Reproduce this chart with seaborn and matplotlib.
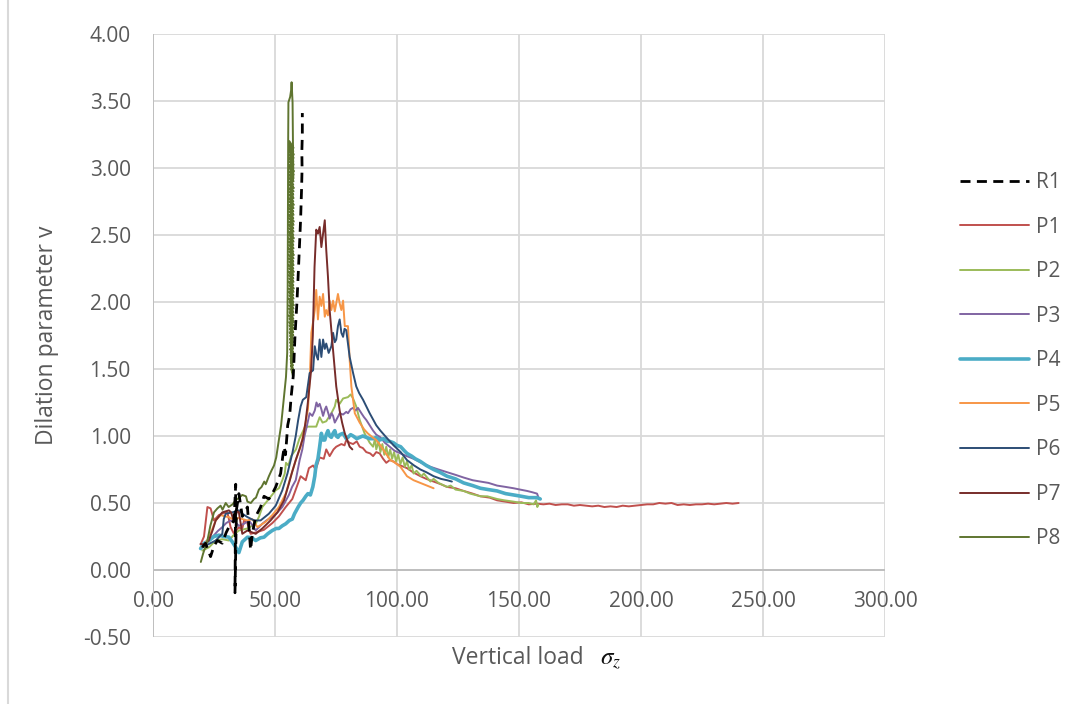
import numpy as np
import pandas as pd
import matplotlib
matplotlib.use("Agg")
import matplotlib.pyplot as plt
from matplotlib.lines import Line2D
from matplotlib.ticker import FormatStrFormatter
import seaborn as sns

# ---------------- data: vertical load vs dilation parameter ----------------
r1_x = [20.2, 21.5, 23.6, 25.0, 26.4, 28.4, 30.0, 31.1, 33.2, 33.9, 33.6, 34.2, 35.2, 36.6,
        38.7, 40.0, 40.7, 42.1, 44.1, 45.5, 47.5, 48.9, 50.3, 52.3, 53.2, 53.8, 54.3, 54.8,
        55.2, 56.0, 56.6, 57.5, 58.2, 59.0, 59.6, 60.1, 60.5, 60.9, 61.1, 61.0, 61.2, 61.2]
r1_y = [0.17, 0.20, 0.10, 0.18, 0.22, 0.20, 0.28, 0.32, 0.37, 0.64, -0.17, 0.45, 0.57, 0.40,
        0.47, 0.15, 0.27, 0.40, 0.47, 0.55, 0.53, 0.57, 0.62, 0.72, 0.85, 0.92, 0.86, 0.98,
        1.08, 1.15, 1.29, 1.45, 1.75, 2.00, 2.24, 2.45, 2.62, 2.85, 3.00, 3.12, 3.25, 3.41]

p1_x = [19.5, 20.9, 22.3, 23.6, 25.0, 27.0, 29.8, 30.5, 31.8, 33.2, 35.2, 36.5, 37.3, 38.5,
        40.0, 42.1, 45.5, 48.9, 51.6, 54.4, 57.1, 58.5, 60.5, 62.6, 63.9, 65.6, 66.7, 68.3,
        70.0, 71.0, 72.4, 74.0, 75.1, 77.2, 78.5, 79.2, 80.5, 82.0, 83.5, 84.7, 86.0, 87.4,
        89.0, 90.2, 91.5, 92.9, 94.3, 95.6, 97.0, 98.6, 100.0, 101.4, 104.1, 106.5, 109.6,
        112.0, 115.0, 118.0, 120.5, 124.0, 127.3, 131.0, 134.2, 138.0, 141.0, 144.5, 147.8,
        151.0, 154.0, 157.4, 160.0, 162.5, 165.0, 167.5, 170.0, 172.5, 175.0, 177.5, 180.0,
        182.5, 185.0, 187.5, 190.0, 192.5, 195.0, 197.5, 200.0, 202.5, 205.0, 207.5, 210.0,
        212.5, 215.0, 217.5, 220.0, 222.5, 225.0, 227.5, 230.0, 232.5, 235.0, 237.5, 240.0]
p1_y = [0.19, 0.25, 0.47, 0.46, 0.37, 0.41, 0.43, 0.43, 0.32, 0.27, 0.32, 0.30, 0.37, 0.36,
        0.27, 0.28, 0.30, 0.35, 0.40, 0.47, 0.53, 0.60, 0.70, 0.67, 0.76, 0.78, 0.75, 0.84,
        0.83, 0.90, 0.85, 0.90, 0.92, 0.94, 0.93, 0.97, 0.95, 0.94, 0.96, 0.92, 0.91, 0.88,
        0.87, 0.85, 0.88, 0.87, 0.83, 0.80, 0.82, 0.81, 0.79, 0.78, 0.76, 0.73, 0.70,
        0.68, 0.66, 0.64, 0.62, 0.61, 0.59, 0.57, 0.55, 0.54, 0.52, 0.51, 0.50,
        0.505, 0.49, 0.495, 0.49, 0.495, 0.485, 0.49, 0.49, 0.48, 0.485, 0.48, 0.475,
        0.48, 0.47, 0.475, 0.47, 0.48, 0.475, 0.48, 0.485, 0.49, 0.49, 0.50, 0.495,
        0.50, 0.485, 0.49, 0.485, 0.49, 0.49, 0.495, 0.49, 0.495, 0.50, 0.495, 0.50]

p2_x = [20.2, 23.0, 25.7, 28.4, 31.1, 33.0, 35.2, 38.7, 42.1, 43.5, 44.8, 47.5, 50.3, 51.6,
        53.0, 54.0, 54.5, 55.5, 56.6, 58.6, 60.0, 62.1, 63.4, 64.9, 66.9, 68.3, 69.5, 71.0,
        73.1, 74.5, 75.1, 76.5, 77.9, 79.9, 81.0, 82.0, 83.3, 84.7, 86.7, 88.8, 90.2, 91.0,
        91.5, 92.5, 93.2, 94.0, 94.8, 95.6, 96.4, 97.2, 98.0, 98.8, 99.6, 100.5, 101.4, 102.3,
        103.2, 104.1, 105.0, 106.0, 106.8, 108.0, 110.0, 111.0, 113.7, 115.0, 117.0, 120.5,
        122.0, 124.0, 127.3, 130.0, 134.2, 137.0, 141.0, 144.0, 147.8, 151.0, 154.0, 156.0,
        157.0, 157.5, 158.0]
p2_y = [0.145, 0.17, 0.22, 0.23, 0.22, 0.26, 0.295, 0.31, 0.345, 0.40, 0.47, 0.53, 0.595, 0.61,
        0.67, 0.72, 0.80, 0.78, 0.85, 0.90, 0.98, 1.06, 1.07, 1.07, 1.07, 1.14, 1.10, 1.11,
        1.17, 1.22, 1.27, 1.24, 1.28, 1.29, 1.31, 1.28, 1.22, 1.12, 1.02, 0.95, 0.92, 0.98,
        0.90, 0.96, 0.88, 0.94, 0.86, 0.92, 0.84, 0.90, 0.83, 0.88, 0.81, 0.86, 0.79, 0.84,
        0.77, 0.81, 0.75, 0.78, 0.72, 0.74, 0.70, 0.72, 0.66, 0.68, 0.65, 0.62,
        0.63, 0.60, 0.59, 0.57, 0.55, 0.55, 0.53, 0.52, 0.51, 0.50, 0.50, 0.49,
        0.52, 0.47, 0.49]

p3_x = [20.2, 22.0, 24.3, 26.5, 28.4, 30.0, 31.8, 33.5, 35.2, 37.3, 39.3, 40.5, 42.1, 44.8,
        46.5, 48.9, 51.0, 53.0, 55.7, 57.0, 58.5, 60.1, 61.2, 62.1, 63.0, 64.2, 65.3, 66.3,
        67.0, 67.6, 68.3, 69.0, 69.7, 70.5, 71.0, 72.0, 72.4, 73.2, 73.8, 74.5, 75.1, 76.0,
        76.5, 77.9, 79.2, 79.9, 81.0, 82.0, 83.0, 84.0, 85.4, 86.5, 87.4, 88.8, 90.2, 91.5,
        93.2, 95.0, 97.0, 99.0, 101.4, 104.0, 106.8, 110.0, 113.7, 117.0, 120.5, 124.0,
        127.3, 131.0, 134.2, 137.5, 141.0, 144.5, 147.8, 150.5, 153.3, 155.5, 157.4, 158.0]
p3_y = [0.17, 0.21, 0.245, 0.29, 0.32, 0.35, 0.37, 0.36, 0.33, 0.345, 0.37, 0.34, 0.295, 0.345,
        0.37, 0.395, 0.43, 0.47, 0.56, 0.62, 0.67, 0.82, 0.90, 1.00, 1.07, 1.17, 1.15, 1.19,
        1.25, 1.22, 1.24, 1.20, 1.15, 1.20, 1.22, 1.16, 1.13, 1.17, 1.15, 1.10, 1.12, 1.15,
        1.17, 1.16, 1.18, 1.17, 1.20, 1.21, 1.19, 1.21, 1.17, 1.14, 1.12, 1.08, 1.04, 1.01,
        0.99, 0.95, 0.92, 0.89, 0.87, 0.85, 0.83, 0.80, 0.77, 0.75, 0.73, 0.71,
        0.69, 0.67, 0.66, 0.65, 0.63, 0.62, 0.61, 0.60, 0.59, 0.58, 0.57, 0.54]

p4_x = [19.5, 21.0, 23.0, 25.0, 27.0, 29.0, 31.1, 32.5, 33.9, 35.2, 36.6, 38.7, 40.5, 42.1,
        44.0, 45.5, 47.0, 48.9, 50.5, 51.6, 53.0, 54.4, 55.9, 57.1, 58.0, 59.5, 60.5, 61.5,
        62.6, 63.5, 64.5, 65.5, 66.3, 66.8, 67.6, 68.3, 69.0, 69.7, 70.4, 71.0, 71.7, 72.4,
        73.1, 73.8, 74.5, 75.1, 75.8, 76.5, 77.9, 79.2, 79.9, 81.0, 82.0, 83.5, 84.7, 86.0,
        87.4, 88.8, 90.2, 91.5, 92.9, 94.5, 96.0, 97.0, 98.5, 100.0, 101.5, 103.0, 104.1,
        106.0, 107.5, 109.6, 112.0, 115.0, 117.5, 120.5, 124.0, 127.3, 131.0, 134.2, 137.5,
        141.0, 144.5, 147.8, 151.0, 154.0, 157.4, 158.7]
p4_y = [0.16, 0.20, 0.22, 0.25, 0.26, 0.25, 0.245, 0.21, 0.17, 0.13, 0.21, 0.245, 0.24, 0.22,
        0.24, 0.245, 0.27, 0.295, 0.31, 0.31, 0.33, 0.345, 0.37, 0.38, 0.42, 0.47, 0.50, 0.52,
        0.55, 0.57, 0.56, 0.62, 0.70, 0.78, 0.83, 0.92, 1.02, 0.97, 0.97, 1.01, 1.04, 1.00,
        0.99, 1.02, 1.04, 1.00, 0.99, 1.01, 1.02, 0.98, 0.99, 1.01, 1.00, 0.98, 0.99, 1.00,
        0.99, 0.98, 0.98, 0.99, 0.97, 0.98, 0.96, 0.96, 0.95, 0.93, 0.92, 0.89, 0.87,
        0.85, 0.83, 0.81, 0.78, 0.75, 0.73, 0.70, 0.68, 0.65, 0.63, 0.61, 0.60,
        0.59, 0.57, 0.56, 0.55, 0.54, 0.54, 0.53]

p5_x = [20.2, 21.5, 23.0, 25.7, 27.7, 29.5, 31.1, 32.5, 33.9, 35.0, 36.6, 38.7, 40.7, 42.8,
        44.5, 46.2, 48.9, 51.6, 54.4, 56.4, 58.5, 60.5, 62.0, 63.5, 64.3, 64.9, 65.6, 66.3,
        66.9, 67.6, 68.3, 69.0, 69.7, 70.4, 71.0, 71.7, 72.4, 73.1, 73.8, 74.5, 75.1, 75.8,
        76.5, 77.2, 77.9, 78.6, 79.9, 80.6, 81.3, 82.7, 84.7, 86.5, 88.0, 90.0, 91.5, 93.2,
        95.0, 97.3, 99.3, 101.4, 104.1, 106.8, 110.9, 115.0]
p5_y = [0.17, 0.20, 0.245, 0.37, 0.41, 0.40, 0.395, 0.38, 0.37, 0.39, 0.38, 0.37, 0.38, 0.32,
        0.34, 0.36, 0.41, 0.47, 0.57, 0.695, 0.82, 0.92, 1.05, 1.20, 1.45, 1.77, 1.85, 1.94,
        2.09, 1.87, 2.04, 1.97, 2.06, 1.89, 1.94, 1.90, 2.01, 1.94, 2.01, 1.93, 1.99, 2.06,
        1.99, 1.94, 2.01, 1.82, 1.82, 1.57, 1.37, 1.17, 1.10, 1.05, 1.02, 0.99, 0.97, 0.93,
        0.88, 0.82, 0.80, 0.77, 0.70, 0.67, 0.64, 0.61]

p6_x = [20.2, 23.0, 25.7, 28.4, 29.0, 29.8, 32.5, 35.2, 36.6, 38.7, 41.4, 44.1, 47.5, 50.3,
        53.0, 55.1, 57.1, 58.5, 59.5, 60.5, 61.4, 62.8, 64.2, 65.6, 66.3, 67.0, 67.6, 68.3,
        69.0, 69.7, 70.4, 71.0, 72.0, 73.1, 73.8, 74.5, 75.1, 75.8, 76.5, 77.2, 77.9, 78.5,
        79.2, 80.6, 82.0, 83.3, 84.5, 86.1, 88.8, 91.5, 93.2, 95.6, 98.6, 101.5, 104.1,
        107.0, 109.6, 112.0, 115.0, 118.0, 120.5, 122.5]
p6_y = [0.17, 0.195, 0.22, 0.27, 0.38, 0.42, 0.43, 0.445, 0.42, 0.395, 0.37, 0.37, 0.42, 0.48,
        0.595, 0.72, 0.87, 1.00, 1.12, 1.22, 1.27, 1.29, 1.47, 1.49, 1.67, 1.60, 1.57, 1.72,
        1.59, 1.72, 1.65, 1.69, 1.62, 1.67, 1.77, 1.70, 1.72, 1.82, 1.87, 1.77, 1.74, 1.80,
        1.79, 1.59, 1.47, 1.37, 1.32, 1.27, 1.17, 1.08, 1.04, 0.99, 0.93, 0.88, 0.82,
        0.78, 0.75, 0.73, 0.70, 0.68, 0.67, 0.66]

p7_x = [19.5, 21.0, 22.9, 24.5, 25.7, 28.4, 31.1, 32.0, 33.2, 34.5, 35.2, 36.6, 38.7, 42.1,
        44.8, 48.2, 51.0, 53.7, 55.7, 57.0, 58.5, 60.0, 61.4, 62.5, 63.4, 64.8, 65.5, 66.2,
        66.9, 67.6, 68.3, 69.0, 69.7, 70.4, 71.0, 71.7, 72.4, 73.8, 75.1, 76.5, 77.5, 78.6,
        80.0, 80.6, 81.7]
p7_y = [0.195, 0.19, 0.22, 0.30, 0.37, 0.43, 0.445, 0.43, 0.36, 0.44, 0.43, 0.27, 0.295, 0.27,
        0.31, 0.37, 0.43, 0.52, 0.645, 0.73, 0.82, 0.90, 0.98, 1.10, 1.24, 1.49, 1.75, 2.26,
        2.54, 2.51, 2.56, 2.41, 2.51, 2.61, 2.39, 2.19, 1.94, 1.64, 1.37, 1.19, 1.10, 1.02,
        0.95, 0.92, 0.90]

# P8: rise, narrow spike to the peak, then the dense oscillating band back down
p8_x = [19.6, 20.5, 22.3, 23.5, 25.0, 26.4, 27.7, 28.5, 29.8, 31.0, 32.6, 33.9, 35.3, 36.6,
        38.1, 38.7, 40.1, 41.4, 42.2, 43.4, 44.5, 45.6, 46.2, 47.5, 48.5, 49.6, 50.5, 51.6,
        52.5, 53.4, 54.0, 54.5, 55.0, 55.2, 55.3, 55.4, 55.5, 56.2, 56.6, 56.8, 57.0, 57.2,
        57.3, 57.4, 57.5,
        55.9, 57.6, 56.0, 57.5, 55.8, 57.7, 56.0, 57.6, 55.9, 57.5,
        55.9, 57.6, 56.0, 57.5, 55.8, 57.7, 56.0, 57.6, 55.9, 57.5,
        55.9, 57.6, 56.0, 57.5, 55.8, 57.7, 56.0, 57.6, 55.9, 57.5,
        55.9, 57.6, 56.0, 57.5, 55.8, 57.7, 56.0, 57.6, 55.9, 57.5,
        55.9, 57.6, 56.0, 57.5, 55.8, 57.7, 56.0, 57.6, 55.9, 57.5,
        55.9, 57.6, 56.0, 57.5, 55.8, 57.7, 56.0, 57.6, 55.9, 57.5,
        55.9, 57.6, 56.0, 57.5, 55.8, 57.7, 56.0, 57.6, 55.9, 57.5,
        55.9, 57.6, 56.0, 57.5, 55.8, 57.7, 56.0, 57.6, 55.9, 57.5,
        55.9, 57.6, 56.0, 57.5, 55.8, 57.7, 56.0, 57.6, 55.9, 57.5,
        55.9, 57.6, 56.0, 57.5, 55.8, 57.7, 56.0, 57.6, 55.9, 57.5,
        55.9, 57.6, 56.0, 57.5, 55.8, 57.7, 56.0, 57.6, 55.9, 57.5,
        56.0, 57.5, 56.1, 57.5, 56.0, 57.4, 56.2, 57.5, 56.1, 57.4,
        56.2, 57.4, 56.3, 57.4, 56.2, 57.3, 56.4, 57.4, 56.3, 57.3,
        56.4, 57.3, 56.5, 57.3, 56.6, 57.3, 56.7, 57.3]
p8_y = [0.06, 0.12, 0.22, 0.33, 0.43, 0.46, 0.48, 0.45, 0.50, 0.47, 0.49, 0.52, 0.54, 0.56,
        0.55, 0.51, 0.50, 0.53, 0.54, 0.60, 0.62, 0.66, 0.64, 0.70, 0.74, 0.78, 0.84, 0.97,
        1.08, 1.24, 1.35, 1.44, 1.62, 2.10, 2.70, 3.20, 3.49, 3.53, 3.58, 3.64, 3.56, 3.49,
        3.30, 3.10, 2.92,
        3.200, 3.150, 3.175, 3.125, 3.150, 3.100, 3.125, 3.075, 3.100, 3.050,
        3.075, 3.025, 3.050, 3.000, 3.025, 2.975, 3.000, 2.950, 2.975, 2.925,
        2.950, 2.900, 2.925, 2.875, 2.900, 2.850, 2.875, 2.825, 2.850, 2.800,
        2.825, 2.775, 2.800, 2.750, 2.775, 2.725, 2.750, 2.700, 2.725, 2.675,
        2.700, 2.650, 2.675, 2.625, 2.650, 2.600, 2.625, 2.575, 2.600, 2.550,
        2.575, 2.525, 2.550, 2.500, 2.525, 2.475, 2.500, 2.450, 2.475, 2.425,
        2.450, 2.400, 2.425, 2.375, 2.400, 2.350, 2.375, 2.325, 2.350, 2.300,
        2.325, 2.275, 2.300, 2.250, 2.275, 2.225, 2.250, 2.200, 2.225, 2.175,
        2.200, 2.150, 2.175, 2.125, 2.150, 2.100, 2.125, 2.075, 2.100, 2.050,
        2.075, 2.025, 2.050, 2.000, 2.025, 1.975, 2.000, 1.950, 1.975, 1.925,
        1.950, 1.900, 1.925, 1.875, 1.900, 1.850, 1.875, 1.825, 1.850, 1.800,
        1.825, 1.775, 1.800, 1.750, 1.775, 1.725, 1.750, 1.700, 1.725, 1.675,
        1.700, 1.650, 1.675, 1.625, 1.650, 1.600, 1.625, 1.575, 1.600, 1.550,
        1.575, 1.525, 1.550, 1.500, 1.525, 1.475, 1.500, 1.450]

series_names = ["R1", "P1", "P2", "P3", "P4", "P5", "P6", "P7", "P8"]
series_x = [r1_x, p1_x, p2_x, p3_x, p4_x, p5_x, p6_x, p7_x, p8_x]
series_y = [r1_y, p1_y, p2_y, p3_y, p4_y, p5_y, p6_y, p7_y, p8_y]

x_ticks = [0, 50, 100, 150, 200, 250, 300]
y_ticks = [-0.5, 0.0, 0.5, 1.0, 1.5, 2.0, 2.5, 3.0, 3.5, 4.0]

# ---------------- styling ----------------
colors = {"R1": "#000000", "P1": "#C0504D", "P2": "#9BBB59", "P3": "#8064A2",
          "P4": "#4BACC6", "P5": "#F79646", "P6": "#2C4D75", "P7": "#772C2A",
          "P8": "#5F7530"}
widths = {"R1": 2.0, "P4": 2.6}
dash_r1 = (0, (3.6, 2.3))
text_color = "#595959"
grid_color = "#d9d9d9"

sns.set_theme(style="white")
plt.rcParams["font.family"] = ["Open Sans", "DejaVu Sans"]
plt.rcParams["mathtext.fontset"] = "stix"

W, H = 1087, 704
fig = plt.figure(figsize=(W / 100, H / 100), dpi=100)
fig.patch.set_facecolor("white")
ax = fig.add_axes([153 / W, 1 - 637 / H, (885 - 153) / W, (637 - 34) / H])

frames = []
for name, xs, ys in zip(series_names, series_x, series_y):
    frames.append(pd.DataFrame({"load": xs, "nu": ys, "series": name}))
df = pd.concat(frames, ignore_index=True)

handles = []
for name in series_names:
    sub = df[df["series"] == name]
    kw = dict(color=colors[name], lw=widths.get(name, 1.4), solid_joinstyle="round")
    if name == "R1":
        kw["linestyle"] = dash_r1
        z = 5
    else:
        z = 3 + series_names.index(name) * 0.01
    sns.lineplot(data=sub, x="load", y="nu", ax=ax, sort=False, estimator=None,
                 zorder=z, legend=False, **kw)
    handles.append(Line2D([], [], **kw))

ax.set_xlim(0, 300)
ax.set_ylim(-0.5, 4.0)
ax.set_xticks(x_ticks)
ax.set_yticks(y_ticks)
ax.xaxis.set_major_formatter(FormatStrFormatter("%.2f"))
ax.yaxis.set_major_formatter(FormatStrFormatter("%.2f"))

ax.set_axisbelow(True)
ax.grid(True, color=grid_color, lw=1.3)
for s in ax.spines.values():
    s.set_visible(False)
ax.spines["bottom"].set_position(("data", 0))
ax.axhline(0, color="#bfbfbf", lw=1.4, zorder=1)
ax.axvline(0, color="#bfbfbf", lw=1.4, zorder=1)

ax.tick_params(axis="both", length=0, labelsize=15, labelcolor=text_color)
ax.tick_params(axis="x", pad=15)
ax.tick_params(axis="y", pad=16)

ax.set_xlabel("")
ax.set_ylabel("Dilation parameter v", fontsize=16.5, color=text_color)
ax.yaxis.set_label_coords((59 - 153) / 732, 0.5)

fig.text(518 / W, 1 - 658 / H, "Vertical load", ha="center", va="center",
         fontsize=16.5, color=text_color)
fig.text(600 / W, 1 - 660 / H, r"$\sigma_z$", ha="left", va="center",
         fontsize=18, color="#111111")

leg = ax.legend(handles, series_names, loc="upper left",
                bbox_to_anchor=(960 / W, 1 - 172 / H), bbox_transform=fig.transFigure,
                frameon=False, borderpad=0, borderaxespad=0, handlelength=3.3,
                handletextpad=0.35, labelspacing=1.13, fontsize=15)
for t in leg.get_texts():
    t.set_color(text_color)

fig.add_artist(Line2D([7.5 / W, 7.5 / W], [0, 1], transform=fig.transFigure,
                      color=grid_color, lw=1.5))

fig.savefig("out.png", dpi=100, facecolor="white")
